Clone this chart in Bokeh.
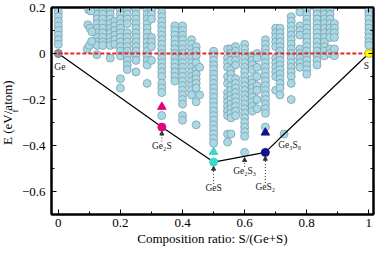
from bokeh.plotting import figure
from bokeh.models import Range1d, FixedTicker, LinearAxis, Arrow, NormalHead, Label, Title, CustomJSTickFormatter
from bokeh.embed import file_html
from bokeh.resources import INLINE

# ---------------- data ----------------
# columns of computed structures: composition S/(Ge+S) and formation energies (eV/atom)
col_x = [0.0, 0.125, 0.143, 0.167, 0.182, 0.2, 0.222, 0.25, 0.286, 0.3, 0.333, 0.375, 0.4,
         0.429, 0.444, 0.455, 0.5, 0.545, 0.556, 0.571, 0.6, 0.625, 0.64, 0.667, 0.7,
         0.714, 0.75, 0.778, 0.8, 0.833, 0.857, 0.875, 0.889, 1.0]
e_000 = [0.20, 0.18, 0.16, 0.14, 0.12, 0.10, 0.08, 0.06, 0.04]
e_125 = [0.19, 0.17, 0.15, 0.13, 0.11, 0.09, 0.07, 0.05, 0.035]
e_143 = [0.19, 0.17, 0.15, 0.13, 0.11, 0.09, 0.07, 0.05, 0.035]
e_167 = [0.19, 0.17, 0.15, 0.13, 0.11, 0.09, 0.07, 0.05, 0.035, -0.02]
e_182 = [0.14, 0.12, 0.10, 0.08, 0.06, 0.04]
e_200 = [0.19, 0.17, 0.15, 0.13, 0.11, 0.09, 0.07, 0.05, 0.03, 0.01, -0.01, -0.11, -0.15]
e_222 = [0.19, 0.17, 0.15, 0.13, 0.09, 0.07, 0.05, 0.03, 0.01, -0.01, -0.03, -0.05, -0.07]
e_250 = [0.19, 0.17, 0.15, 0.13, 0.11, 0.09, 0.07, 0.05, 0.03, 0.01, -0.01, -0.03, -0.08]
e_286 = [0.19, 0.17, 0.15, 0.13, 0.11, 0.09, 0.07, 0.05, 0.03, 0.01, -0.01, -0.03, -0.05, -0.13]
e_300 = [0.19, 0.17, 0.15, 0.07, 0.05, 0.03, -0.03]
e_333 = [0.18, 0.16, 0.14, 0.12, 0.10, 0.08, 0.06, 0.04, 0.02, 0.0, -0.02, -0.04, -0.06,
         -0.08, -0.10, -0.13, -0.15, -0.17, -0.27]
e_375 = [0.12, 0.10, 0.08, 0.06, 0.04, 0.02, 0.0, -0.02, -0.04, -0.06, -0.08, -0.10, -0.12]
e_400 = [0.12, 0.10, 0.08, 0.06, 0.04, 0.02, 0.0, -0.02, -0.04, -0.06, -0.08, -0.10, -0.12,
         -0.14, -0.16, -0.18, -0.20, -0.22, -0.27, -0.29]
e_429 = [0.06, 0.04, 0.02, 0.0, -0.02, -0.04, -0.06, -0.08, -0.10, -0.12, -0.14, -0.16, -0.18]
e_444 = [0.03, 0.01, -0.01, -0.04, -0.07, -0.09, -0.11, -0.13, -0.15, -0.21, -0.31]
e_455 = [-0.06, -0.18]
e_500 = [0.01, -0.01, -0.03, -0.05, -0.07, -0.09, -0.11, -0.13, -0.15, -0.17, -0.19, -0.21,
         -0.23, -0.25, -0.27, -0.29, -0.31, -0.33, -0.35, -0.37, -0.39]
e_545 = [0.02, -0.02, -0.04, -0.06, -0.10, -0.13, -0.17, -0.19, -0.21, -0.23, -0.25, -0.27,
         -0.35, -0.385]
e_556 = [0.02, 0.0, -0.03, -0.07, -0.09, -0.11, -0.14, -0.16, -0.18, -0.20, -0.22, -0.24,
         -0.26, -0.28, -0.35]
e_571 = [0.03, 0.01, -0.01, -0.03, -0.05, -0.11, -0.13, -0.15, -0.17, -0.19, -0.21, -0.23,
         -0.25, -0.27]
e_600 = [0.04, 0.02, 0.0, -0.02, -0.04, -0.06, -0.08, -0.10, -0.12, -0.14, -0.16, -0.18,
         -0.20, -0.22, -0.24, -0.26, -0.28, -0.30, -0.32, -0.34, -0.36, -0.43]
e_625 = [-0.01, -0.03, -0.05, -0.07, -0.11, -0.13, -0.15, -0.17, -0.19, -0.21, -0.23, -0.25]
e_640 = [0.0, -0.02, -0.06, -0.10, -0.14, -0.16, -0.20, -0.24]
e_667 = [0.06, 0.04, 0.02, 0.0, -0.02, -0.04, -0.06, -0.08, -0.10, -0.12, -0.14, -0.16,
         -0.18, -0.20, -0.22, -0.24, -0.26, -0.32]
e_700 = [0.11, 0.09, 0.07, 0.05, 0.03, -0.02, -0.04, -0.06, -0.08, -0.10, -0.16]
e_714 = [0.11, 0.09, 0.07, 0.05, 0.03, 0.01, -0.01, -0.03, -0.05, -0.07, -0.09, -0.11,
         -0.13, -0.15, -0.18]
e_750 = [0.16, 0.14, 0.12, 0.10, 0.08, 0.06, 0.04, 0.02, 0.0, -0.02, -0.04, -0.06, -0.08,
         -0.10, -0.13, -0.20]
e_778 = [0.18, 0.12, 0.10, 0.08, 0.02, 0.0, -0.02, -0.04, -0.06]
e_800 = [0.19, 0.17, 0.15, 0.13, 0.11, 0.09, 0.07, 0.05, 0.03, 0.01, -0.01, -0.03, -0.05,
         -0.07, -0.09]
e_833 = [0.19, 0.17, 0.15, 0.13, 0.11, 0.09, 0.07, 0.05, 0.03, 0.01, -0.01, -0.03, -0.05]
e_857 = [0.19, 0.17, 0.15, 0.13, 0.11, 0.09, 0.07, 0.05, 0.03, 0.01, -0.01]
e_875 = [0.19, 0.17, 0.15, 0.13, 0.11, 0.09, 0.07, 0.02, 0.0]
e_889 = [0.13, 0.11, 0.09, 0.07, 0.02, -0.01]
e_1000 = [0.19, 0.17, 0.15, 0.13, 0.11, 0.09, 0.07, 0.05, 0.035]
col_e = [e_000, e_125, e_143, e_167, e_182, e_200, e_222, e_250, e_286, e_300, e_333, e_375,
         e_400, e_429, e_444, e_455, e_500, e_545, e_556, e_571, e_600, e_625, e_640, e_667,
         e_700, e_714, e_750, e_778, e_800, e_833, e_857, e_875, e_889, e_1000]

# loose structures near x ~ 0.1, and Ge3S8
misc_x = [0.093, 0.1, 0.107, 0.095, 0.102, 0.108, 0.098, 0.105, 0.124, 0.727]
misc_y = [0.02, 0.035, 0.053, 0.125, 0.11, 0.095, 0.19, 0.185, -0.005, -0.35]

# convex hull
hull_names = ["Ge", "Ge\u2082S", "GeS", "GeS\u2082", "Ge\u2083S\u2088", "S"]
hull_x = [0.0, 1/3, 0.5, 2/3, 8/11, 1.0]
hull_y = [0.0, -0.32, -0.472, -0.43, -0.35, 0.0]

# highlighted phases (circles) and their triangle counterparts
phase_x = [1/3, 0.5, 2/3]
phase_circle_y = [-0.32, -0.472, -0.43]
phase_tri_y = [-0.232, -0.428, -0.344]
phase_colors = ["#e5007d", "#3cd6cc", "#121290"]

x_ticks = [0.0, 0.2, 0.4, 0.6, 0.8, 1.0]
x_tick_labels = ["0", "0.2", "0.4", "0.6", "0.8", "1"]
x_minor = [0.1, 0.3, 0.5, 0.7, 0.9]
y_ticks = [0.2, 0.0, -0.2, -0.4, -0.6]
y_tick_labels = ["0.2", "0", "\u22120.2", "\u22120.4", "\u22120.6"]
y_minor = [0.1, -0.1, -0.3, -0.5]

# ---------------- figure ----------------
FONT = "Liberation Serif"
p = figure(width=376, height=248, output_backend="svg", toolbar_location=None,
           x_range=Range1d(-0.022, 1.015), y_range=Range1d(-0.7, 0.2),
           min_border_left=51, min_border_right=3, min_border_top=7, min_border_bottom=1,
           x_axis_label="Composition ratio: S/(Ge+S)")
p.grid.visible = False
p.outline_line_color = "black"
p.outline_line_width = 2
p.background_fill_color = "white"

def style_axis(ax, ticks, minor, labels=None):
    ax.ticker = FixedTicker(ticks=ticks, minor_ticks=minor)
    ax.axis_line_width = 2
    ax.axis_line_color = "black"
    ax.major_tick_in = 5
    ax.major_tick_out = 0
    ax.minor_tick_in = 3
    ax.minor_tick_out = 0
    ax.major_tick_line_color = "black"
    ax.minor_tick_line_color = "black"
    ax.major_label_text_font = FONT
    ax.major_label_text_font_size = "13px"
    ax.major_label_text_color = "black"
    ax.major_label_standoff = 4
    ax.axis_label_text_font = FONT
    ax.axis_label_text_font_size = "13px"
    ax.axis_label_text_font_style = "normal"
    ax.axis_label_text_color = "black"
    ax.axis_label_standoff = 1
    if labels is not None:
        ax.major_label_overrides = {t: s for t, s in zip(ticks, labels)}
    else:
        ax.formatter = CustomJSTickFormatter(code="return ''")
        ax.major_label_text_font_size = "1px"
        ax.major_label_standoff = 0

style_axis(p.xaxis[0], x_ticks, x_minor, x_tick_labels)
style_axis(p.yaxis[0], y_ticks, y_minor, y_tick_labels)
p.yaxis[0].major_label_standoff = 6
ax_r = LinearAxis()
style_axis(ax_r, y_ticks, y_minor)
p.add_layout(ax_r, "right")
ax_t = LinearAxis()
style_axis(ax_t, x_ticks, x_minor)
p.add_layout(ax_t, "above")

# y axis title as real text: "E" + subscript "f" + "(eV/atom)"
t_f = Title(text="f", text_font=FONT, text_font_size="9px", text_font_style="normal",
            text_color="black", align="center", vertical_align="middle", offset=-12, standoff=-4)
t_main = Title(text="E  (eV/atom)", text_font=FONT, text_font_size="13px", text_font_style="normal",
               text_color="black", align="center", vertical_align="middle", offset=-9, standoff=-11)
p.add_layout(t_f, "left")
p.add_layout(t_main, "left")

# all structures
px, py = [], []
for xv, ys in zip(col_x, col_e):
    px += [xv] * len(ys)
    py += ys
px += misc_x
py += misc_y
p.scatter(px, py, size=8, fill_color="#a9d9e6", line_color="#7f9fa8", line_width=0.8)

# hull line
p.line(hull_x, hull_y, line_color="black", line_width=1.2)

# Ge end point (grey) then zero line
p.scatter([hull_x[0]], [hull_y[0]], size=8, fill_color="#9a9a9a", line_color="#666666", line_width=0.8)
p.line([0.0, 1.0], [0.0, 0.0], line_color="#e3262e", line_width=2, line_dash="4 2")
p.scatter([hull_x[-1]], [hull_y[-1]], size=8, fill_color="#ffff00", line_color="#b0a000", line_width=0.8)

# highlighted phases
p.scatter(phase_x, phase_tri_y, marker="triangle", size=8.5, fill_color=phase_colors, line_color=phase_colors)
p.scatter(phase_x, phase_circle_y, size=8, fill_color=phase_colors, line_color=phase_colors)

# labels
def lab(x, y, text, align="center", size="9.5px"):
    p.add_layout(Label(x=x, y=y, text=text, text_font=FONT, text_font_size=size,
                       text_align=align, text_baseline="middle", text_color="#222222"))

lab(-0.013, -0.058, hull_names[0], align="left")
lab(0.992, -0.056, hull_names[5])
lab(1/3, -0.40, hull_names[1])
lab(0.5, -0.585, hull_names[2])
lab(0.6, -0.51, "Ge\u2082S\u2083")
lab(2/3, -0.58, hull_names[3])
lab(0.708, -0.396, hull_names[4], align="left")

# dotted arrows from labels to phases
arrows = [(1/3, -0.383, -0.337), (0.5, -0.567, -0.49), (0.6, -0.493, -0.452), (2/3, -0.563, -0.447)]
for ax_, y0, y1 in arrows:
    p.add_layout(Arrow(x_start=ax_, y_start=y0, x_end=ax_, y_end=y1,
                       line_color="#333333", line_width=1, line_dash="1 2",
                       end=NormalHead(size=4, fill_color="#333333", line_color="#333333")))

open("out.html", "w").write(file_html(p, INLINE))
